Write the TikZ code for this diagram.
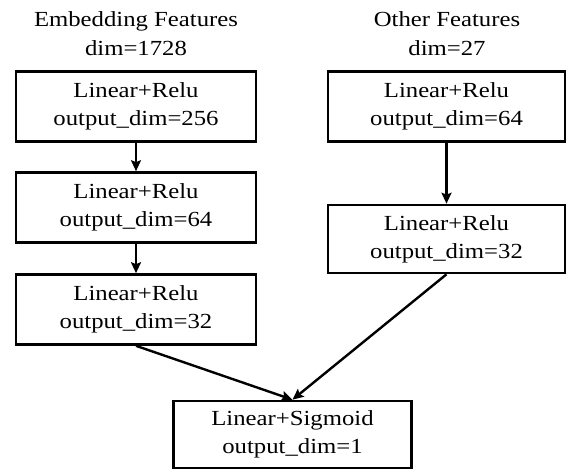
\documentclass[tikz,border=0pt]{standalone}
\usepackage{fontspec}
\setmainfont{Liberation Serif}[FakeStretch=1.15]
\usetikzlibrary{arrows.meta}
\begin{document}
\begin{tikzpicture}[x=1pt,y=-1pt,
  box/.style={draw,line width=2.6pt,align=center,inner sep=0pt,
    font=\fontsize{21.5}{28}\selectfont},
  title/.style={align=center,inner sep=0pt,font=\fontsize{21.5}{29}\selectfont},
  arr/.style={line width=2.4pt,-{Stealth[length=11pt,width=10pt,inset=2pt]}}]
\useasboundingbox (0,0) rectangle (567,470);
\node[title] (t1) at (136,34) {Embedding Features\\dim=1728};
\node[title] (t2) at (447,34) {Other Features\\dim=27};
\node[box,minimum width=240pt,minimum height=70pt] (a1) at (136,106.5) {Linear+Relu\\output\_dim=256};
\node[box,minimum width=240pt,minimum height=70pt] (a2) at (136,207.5) {Linear+Relu\\output\_dim=64};
\node[box,minimum width=240pt,minimum height=70pt] (a3) at (136,309.5) {Linear+Relu\\output\_dim=32};
\node[box,minimum width=237pt,minimum height=70pt] (b1) at (446.5,106.5) {Linear+Relu\\output\_dim=64};
\node[box,minimum width=237pt,minimum height=68pt] (b2) at (446.5,239) {Linear+Relu\\output\_dim=32};
\node[box,minimum width=238pt,minimum height=67pt] (c) at (292.5,434.5) {Linear+Sigmoid\\output\_dim=1};
\draw[arr] (a1) -- (a2);
\draw[arr] (a2) -- (a3);
\draw[arr] (b1) -- (b2);
\draw[arr] (a3.south) -- (c.north);
\draw[arr] (b2.south) -- (c.north);
\end{tikzpicture}
\end{document}
